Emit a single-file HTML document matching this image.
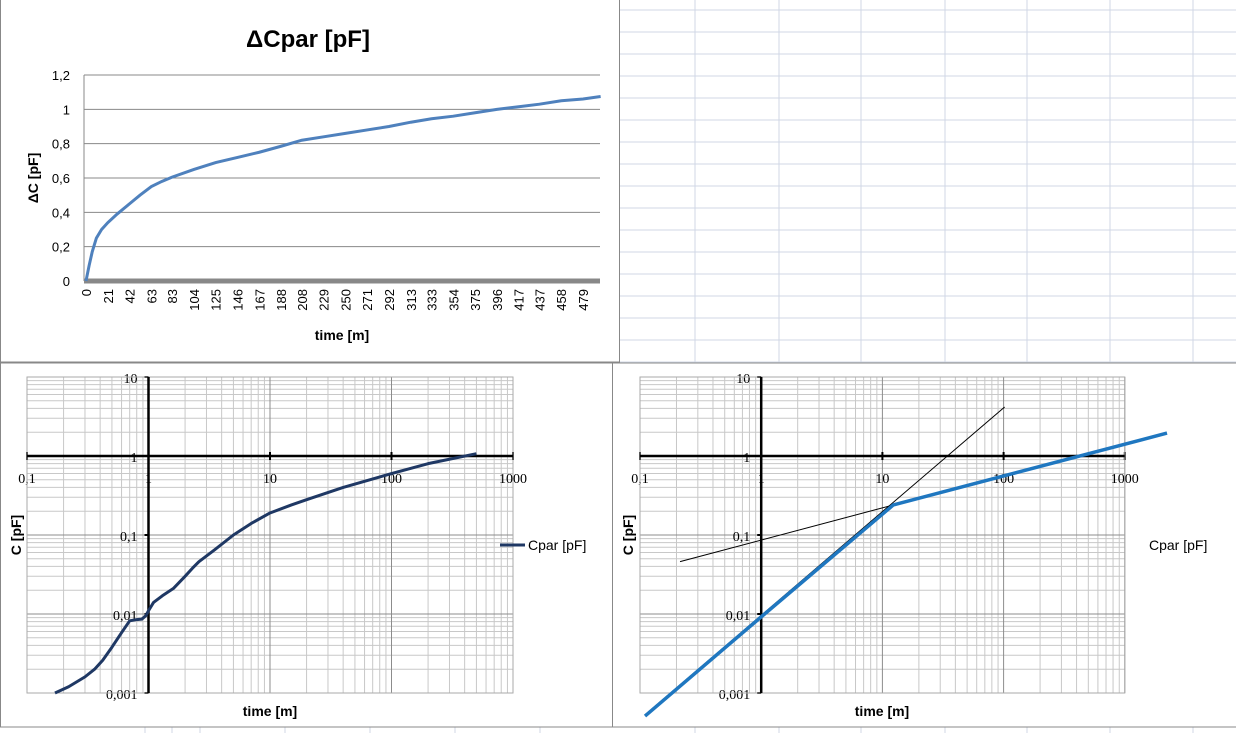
<!DOCTYPE html>
<html><head><meta charset="utf-8">
<style>
html,body{margin:0;padding:0;background:#fff;}
svg{display:block;font-family:"Liberation Sans",sans-serif;}
</style></head>
<body>
<svg id="s" width="1236" height="733" viewBox="0 0 1236 733">
  <g id="cells"></g>
  <g id="c1"></g>
  <g id="c2"></g>
  <g id="c3"></g>
</svg>
<script>
// Chart 1 data
const c1Times = [0,3,6,10,15,21,30,42,52,63,73,83,104,125,146,167,188,208,229,250,271,292,313,333,354,375,396,417,437,458,479,496];
const c1Values = [0,0.09,0.17,0.25,0.3,0.34,0.39,0.45,0.5,0.55,0.58,0.605,0.65,0.69,0.72,0.75,0.785,0.82,0.84,0.86,0.88,0.9,0.925,0.945,0.96,0.98,1.0,1.015,1.03,1.05,1.06,1.075];
const c1XTicks = [0,21,42,63,83,104,125,146,167,188,208,229,250,271,292,313,333,354,375,396,417,437,458,479];
const c1YTicks = [0,0.2,0.4,0.6,0.8,1,1.2];
// Chart 2 data
const c2Times = [0.17,0.22,0.3,0.36,0.42,0.5,0.6,0.7,0.8,0.88,0.95,1.0,1.1,1.3,1.6,2.0,2.3,2.6,3.5,5,7,10,15,20,40,100,200,500];
const c2Values = [0.001,0.0012,0.0016,0.002,0.0026,0.0038,0.0058,0.0082,0.0085,0.0086,0.0095,0.011,0.014,0.017,0.021,0.03,0.038,0.046,0.065,0.1,0.14,0.19,0.24,0.28,0.4,0.6,0.8,1.07];
// Chart 3 data
const c3BlueT = [0.11,1,12.3,2230];
const c3BlueC = [0.00051,0.0092,0.24,1.95];
const c3Fit1T = [0.11,102];
const c3Fit1C = [0.00053,4.17];
const c3Fit2T = [0.214,12.3];
const c3Fit2C = [0.046,0.24];
const logXTicks = [0.1,1,10,100,1000];
const logXLabels = ["0,1","1","10","100","1000"];
const logYTicks = [0.001,0.01,0.1,1,10];
const logYLabels = ["0,001","0,01","0,1","1","10"];

const NS="http://www.w3.org/2000/svg";
function mk(parent,tag,attrs,text){const e=document.createElementNS(NS,tag);for(const k in attrs)e.setAttribute(k,attrs[k]);if(text!==undefined)e.textContent=text;parent.appendChild(e);return e;}

// spreadsheet cells
const cells=document.getElementById('cells');
[695,779,861,945,1027,1110,1193].forEach(x=>{const l=mk(cells,'line',{x1:x,y1:0,x2:x,y2:733,stroke:'#d0d7e5'});

});
for(let y=10;y<733;y+=22){const l=mk(cells,'line',{x1:619,y1:y,x2:1236,y2:y,stroke:'#d0d7e5'});

}
[145,172,200,285,370,455,540].forEach(x=>{const l=mk(cells,'line',{x1:x,y1:727,x2:x,y2:733,stroke:'#d0d7e5'});

});

// ---- Chart 1
(function(){
const g=document.getElementById('c1');
const bg=mk(g,'rect',{x:0.5,y:-1,width:619,height:363,fill:'#fff',stroke:'#888'});


const L=84,R=600,Y0=281,Y1=75;
const xs=t=>86+t*(583-86)/479;
const ys=v=>Y0-(v/1.2)*(Y0-Y1);
c1YTicks.forEach(v=>{
  if(v>0){const l=mk(g,'line',{x1:L,y1:ys(v),x2:R,y2:ys(v),stroke:'#888','stroke-width':1});
  
  }
  const t=mk(g,'text',{x:70,y:ys(v)+5,'text-anchor':'end','font-size':13,fill:'#000'},String(v).replace('.',','));
  
  
});
const ax=mk(g,'line',{x1:L,y1:Y0,x2:R,y2:Y0,stroke:'#888','stroke-width':5});


const ay=mk(g,'line',{x1:L,y1:Y1,x2:L,y2:Y0,stroke:'#888'});


c1XTicks.forEach(v=>{
  const x=xs(v);
  const t=mk(g,'text',{x:0,y:0,transform:`translate(${x+5},${289}) rotate(-90)`,'text-anchor':'end','font-size':13,fill:'#000'},String(v));
  
  
});
const p=mk(g,'polyline',{points:c1Times.map((t,i)=>xs(t)+','+ys(c1Values[i])).join(' '),fill:'none',stroke:'#4f81bd','stroke-width':3});


const ti=mk(g,'text',{x:308,y:47,'text-anchor':'middle','font-size':24,'font-weight':'bold',fill:'#000'},'ΔCpar [pF]');


const xt=mk(g,'text',{x:342,y:340,'text-anchor':'middle','font-size':14,'font-weight':'bold'},'time [m]');


const yt=mk(g,'text',{x:0,y:0,transform:'translate(38,178) rotate(-90)','text-anchor':'middle','font-size':14,'font-weight':'bold'},'ΔC [pF]');


})();

function logChart(g,ox,x0,dx,legendLine){
  const Ytop=377,dy=79;
  const xs=t=>x0+(Math.log10(t)+1)*dx;
  const ys=c=>Ytop+(1-Math.log10(c))*dy;
  const L=xs(0.1),R=xs(1000),T=ys(10),B=ys(0.001);
  // minor grid
  for(let d=-1;d<3;d++)for(let m=2;m<10;m++){
    const x=xs(m*Math.pow(10,d));
    const l=mk(g,'line',{x1:x,y1:T,x2:x,y2:B,stroke:'#c8c8c8'});
    
    }
  for(let d=-3;d<1;d++)for(let m=2;m<10;m++){
    const y=ys(m*Math.pow(10,d));
    const l=mk(g,'line',{x1:L,y1:y,x2:R,y2:y,stroke:'#c8c8c8'});
    
    }
  logXTicks.forEach((v,i)=>{const x=xs(v);
    const l=mk(g,'line',{x1:x,y1:T,x2:x,y2:B,stroke:'#8c8c8c'});
    
    
    const tk=mk(g,'line',{x1:x,y1:ys(1)-4,x2:x,y2:ys(1)+4,stroke:'#000','stroke-width':2});
    
    
    const t=mk(g,'text',{x:x,y:ys(1)+27,'text-anchor':'middle','font-size':14,fill:'#000','font-family':'Liberation Serif, serif'},logXLabels[i]);
    
    });
  logYTicks.forEach((v,i)=>{const y=ys(v);
    const l=mk(g,'line',{x1:L,y1:y,x2:R,y2:y,stroke:'#8c8c8c'});
    
    
    const tk=mk(g,'line',{x1:xs(1)-4,y1:y,x2:xs(1),y2:y,stroke:'#000','stroke-width':2});
    
    
    const t=mk(g,'text',{x:xs(1)-11,y:y+6,'text-anchor':'end','font-size':14,fill:'#000','font-family':'Liberation Serif, serif'},logYLabels[i]);
    
    });
  const border=mk(g,'rect',{x:L,y:T,width:R-L,height:B-T,fill:'none',stroke:'#aaa'});
  
  
  const ax=mk(g,'line',{x1:L,y1:ys(1),x2:R,y2:ys(1),stroke:'#000','stroke-width':2.5});
  
  
  const ay=mk(g,'line',{x1:xs(1),y1:T,x2:xs(1),y2:B,stroke:'#000','stroke-width':2.5});
  
  
  const xt=mk(g,'text',{x:ox+270,y:716,'text-anchor':'middle','font-size':14,'font-weight':'bold'},'time [m]');
  
  
  const yt=mk(g,'text',{x:0,y:0,transform:`translate(${ox+21},535) rotate(-90)`,'text-anchor':'middle','font-size':14,'font-weight':'bold'},'C [pF]');
  
  
  return {xs,ys};
}

// ---- Chart 2
(function(){
const g=document.getElementById('c2');
const bg=mk(g,'rect',{x:0.5,y:363,width:612,height:364,fill:'#fff',stroke:'#888'});


const {xs,ys}=logChart(g,0,27,121.5);
const p=mk(g,'polyline',{points:c2Times.map((t,i)=>xs(t)+','+ys(c2Values[i])).join(' '),fill:'none',stroke:'#1f3864','stroke-width':3,'stroke-linejoin':'round'});


const ll=mk(g,'line',{x1:500,y1:545,x2:525,y2:545,stroke:'#1f3864','stroke-width':3});


const lt=mk(g,'text',{x:528,y:550,'font-size':14},'Cpar [pF]');


})();

// ---- Chart 3
(function(){
const g=document.getElementById('c3');
const bg=mk(g,'rect',{x:612.5,y:363,width:624,height:364,fill:'#fff',stroke:'#888'});


const {xs,ys}=logChart(g,612,640,121.2);
const f1=mk(g,'polyline',{points:c3Fit1T.map((t,i)=>xs(t)+','+ys(c3Fit1C[i])).join(' '),fill:'none',stroke:'#000','stroke-width':1});


const f2=mk(g,'polyline',{points:c3Fit2T.map((t,i)=>xs(t)+','+ys(c3Fit2C[i])).join(' '),fill:'none',stroke:'#000','stroke-width':1});


const p=mk(g,'polyline',{points:c3BlueT.map((t,i)=>xs(t)+','+ys(c3BlueC[i])).join(' '),fill:'none',stroke:'#1f77c0','stroke-width':3.5});


const lt=mk(g,'text',{x:1149,y:550,'font-size':14},'Cpar [pF]');


})();
</script>
</body></html>
